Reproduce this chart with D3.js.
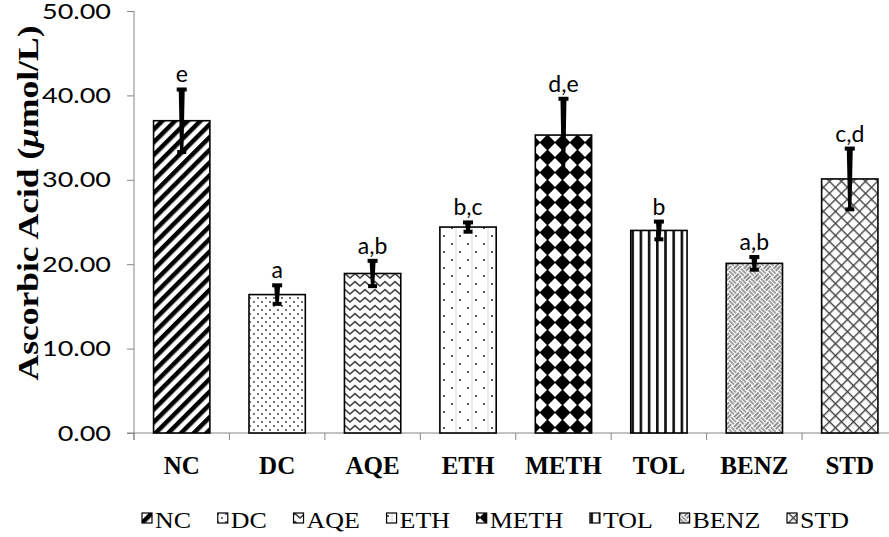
<!DOCTYPE html>
<html><head><meta charset="utf-8">
<script src="https://cdn.jsdelivr.net/npm/d3@7"></script>
<style>body{margin:0;background:#fff}svg{display:block}</style>
</head><body>
<svg id="c" width="889" height="537"></svg>
<script>
const categories = ["NC","DC","AQE","ETH","METH","TOL","BENZ","STD"];
const means = [37.0,16.4,18.9,24.4,35.3,24.0,20.1,30.1];
const errors = [3.7,1.1,1.5,0.55,4.3,1.05,0.75,3.6];
const letters = ["e","a","a,b","b,c","d,e","b","a,b","c,d"];
const yTicks = [0,10,20,30,40,50];
const yTickLabels = ["0.00","10.00","20.00","30.00","40.00","50.00"];
const yTitleParts = ["Ascorbic Acid (", "\u03BC", "mol/L)"];

const svg = d3.select("#c");
const defs = svg.append("defs");

// ---------- patterns ----------
function pat(id, w, h, transform) {
  const p = defs.append("pattern").attr("id", id).attr("patternUnits","userSpaceOnUse")
    .attr("width", w).attr("height", h);
  if (transform) p.attr("patternTransform", transform);
  p.append("rect").attr("width", w).attr("height", h).attr("fill", "#fff");
  return p;
}
pat("p0", 9, 9, "rotate(45)").append("rect").attr("width", 4.5).attr("height", 9).attr("fill", "#000");
{ const p = pat("p1", 8, 8);
  p.append("circle").attr("cx",2).attr("cy",2).attr("r",0.9).attr("fill","#333");
  p.append("circle").attr("cx",6).attr("cy",6).attr("r",0.9).attr("fill","#333"); }
pat("p2", 10, 8).append("path").attr("d","M-0.5,6.4 L5,1.6 L10.5,6.4")
  .attr("fill","none").attr("stroke","#444").attr("stroke-width",1.6);
{ const p = pat("p3", 16, 16);
  p.append("rect").attr("x",7.5).attr("width",1).attr("height",16).attr("fill","#d8d8d8");
  p.append("circle").attr("cx",4).attr("cy",4).attr("r",1).attr("fill","#222");
  p.append("circle").attr("cx",12).attr("cy",12).attr("r",1).attr("fill","#222"); }
pat("p4", 15, 15).append("path").attr("d","M7.5,-0.6 L15.6,7.5 L7.5,15.6 L-0.6,7.5 Z").attr("fill","#000");
pat("p5", 8.2, 8).append("rect").attr("width",2.6).attr("height",8).attr("fill","#111");
pat("p6", 14, 14, "rotate(45)").append("path")
  .attr("d","M0,2H7M0,5H7 M9,0V7M12,0V7 M2,7V14M5,7V14 M7,9H14M7,12H14")
  .attr("fill","none").attr("stroke","#444").attr("stroke-width",1.2);
{ const p = pat("p7", 8.5, 8.5, "rotate(45)");
  p.append("rect").attr("width",8.5).attr("height",1.4).attr("fill","#444");
  p.append("rect").attr("width",1.4).attr("height",8.5).attr("fill","#444"); }

// ---------- scales ----------
const x = d3.scaleBand().domain(categories).range([134, 897.5]).paddingInner(0.41).paddingOuter(0.205);
const y = d3.scaleLinear().domain([0, 50]).range([433, 11]);
const axisColor = "#868686";

// y axis
const yAxis = d3.axisLeft(y).tickValues(yTicks).tickSize(7).tickFormat((d,i) => yTickLabels[i]);
const gy = svg.append("g").attr("transform","translate(134,0)").call(yAxis);
gy.select(".domain").attr("stroke", axisColor).attr("d", `M0,${y(50)}V440`);
gy.selectAll(".tick line").attr("stroke", axisColor);
const tickTexts = gy.selectAll(".tick text").attr("x", -23).attr("fill","#000")
  .style("font-family","Lato, 'Open Sans', sans-serif").style("font-size","22px");
let refW = 0;
tickTexts.each(function(){ refW = Math.max(refW, this.getComputedTextLength()); });
const tickStretch = 69 / refW;
tickTexts.each(function(){
  d3.select(this).attr("textLength", this.getComputedTextLength() * tickStretch).attr("lengthAdjust","spacingAndGlyphs");
});

// x axis
const gx = svg.append("g").attr("transform","translate(0,433)");
gx.append("line").attr("x1",127).attr("x2",889).attr("stroke",axisColor);
const step = x.step();
const x0 = x(categories[0]) - (step - x.bandwidth())/2;
gx.selectAll("line.tk").data(d3.range(0, categories.length + 1)).join("line").attr("class","tk")
  .attr("x1", i => x0 + i*step).attr("x2", i => x0 + i*step)
  .attr("y1",0).attr("y2",7).attr("stroke",axisColor);
gx.selectAll("text.cat").data(categories).join("text").attr("class","cat")
  .attr("x", d => x(d) + x.bandwidth()/2).attr("y", 41)
  .attr("text-anchor","middle")
  .style("font-family","'Liberation Serif', 'Times New Roman', serif").style("font-weight","bold").style("font-size","25px")
  .text(d => d);

// bars
const data = categories.map((c,i) => ({c, m: means[i], e: errors[i], l: letters[i], i}));
svg.append("g").selectAll("rect").data(data).join("rect")
  .attr("x", d => x(d.c)).attr("width", x.bandwidth())
  .attr("y", d => y(d.m)).attr("height", d => y(0) - y(d.m))
  .attr("fill", d => `url(#p${d.i})`).attr("stroke","#000").attr("stroke-width",1.6);

// error bars
const eg = svg.append("g");
data.forEach(d => {
  const cx = x(d.c) + x.bandwidth()/2, yt = y(d.m + d.e), yb = y(d.m - d.e);
  eg.append("path").attr("d", `M${cx-3},${yt} L${cx+3},${yt} L${cx+1.7},${yb} L${cx-1.7},${yb} Z`).attr("fill","#000");
  eg.append("rect").attr("x", cx-5).attr("y", yt-2).attr("width",10).attr("height",4).attr("fill","#000");
  eg.append("rect").attr("x", cx-4.5).attr("y", yb-2).attr("width",9).attr("height",4).attr("fill","#000");
});

// significance letters
svg.append("g").selectAll("text").data(data).join("text")
  .attr("x", d => x(d.c) + x.bandwidth()/2).attr("y", d => y(d.m + d.e) - 7)
  .attr("text-anchor","middle")
  .style("font-family","Lato, 'Open Sans', sans-serif").style("font-size","23px")
  .text(d => d.l);

// y title
const yt = svg.append("text").attr("transform","translate(38,203) rotate(-90)")
  .attr("text-anchor","middle")
  .style("font-family","'Liberation Serif', 'Times New Roman', serif").style("font-weight","bold").style("font-size","30px")
  .attr("textLength",355).attr("lengthAdjust","spacingAndGlyphs");
yTitleParts.forEach((t,i) => {
  const s = yt.append("tspan").text(t);
  if (i === 1) s.style("font-style","italic");
});

// legend
const lg = svg.append("g");
const legFont = 24, stretch = 1.08, swatch = 10, swGap = 3;
const items = categories.map((c,i) => {
  const t = lg.append("text").attr("y", 528)
    .style("font-family","'Liberation Serif', 'Times New Roman', serif").style("font-size", legFont + "px").text(c);
  const w = t.node().getComputedTextLength() * stretch;
  t.attr("textLength", w).attr("lengthAdjust","spacingAndGlyphs");
  return {c, i, t, w};
});
const legStart = 142, legEnd = 849;
const used = d3.sum(items, d => d.w + swatch + swGap);
const gap = (legEnd - legStart - used) / (items.length - 1);
let cur = legStart;
items.forEach(d => {
  lg.append("rect").attr("x", cur).attr("y", 513).attr("width", swatch).attr("height", swatch)
    .attr("fill", `url(#p${d.i})`).attr("stroke","#000").attr("stroke-width",1.2);
  d.t.attr("x", cur + swatch + swGap);
  cur += swatch + swGap + d.w + gap;
});
</script>
</body></html>
